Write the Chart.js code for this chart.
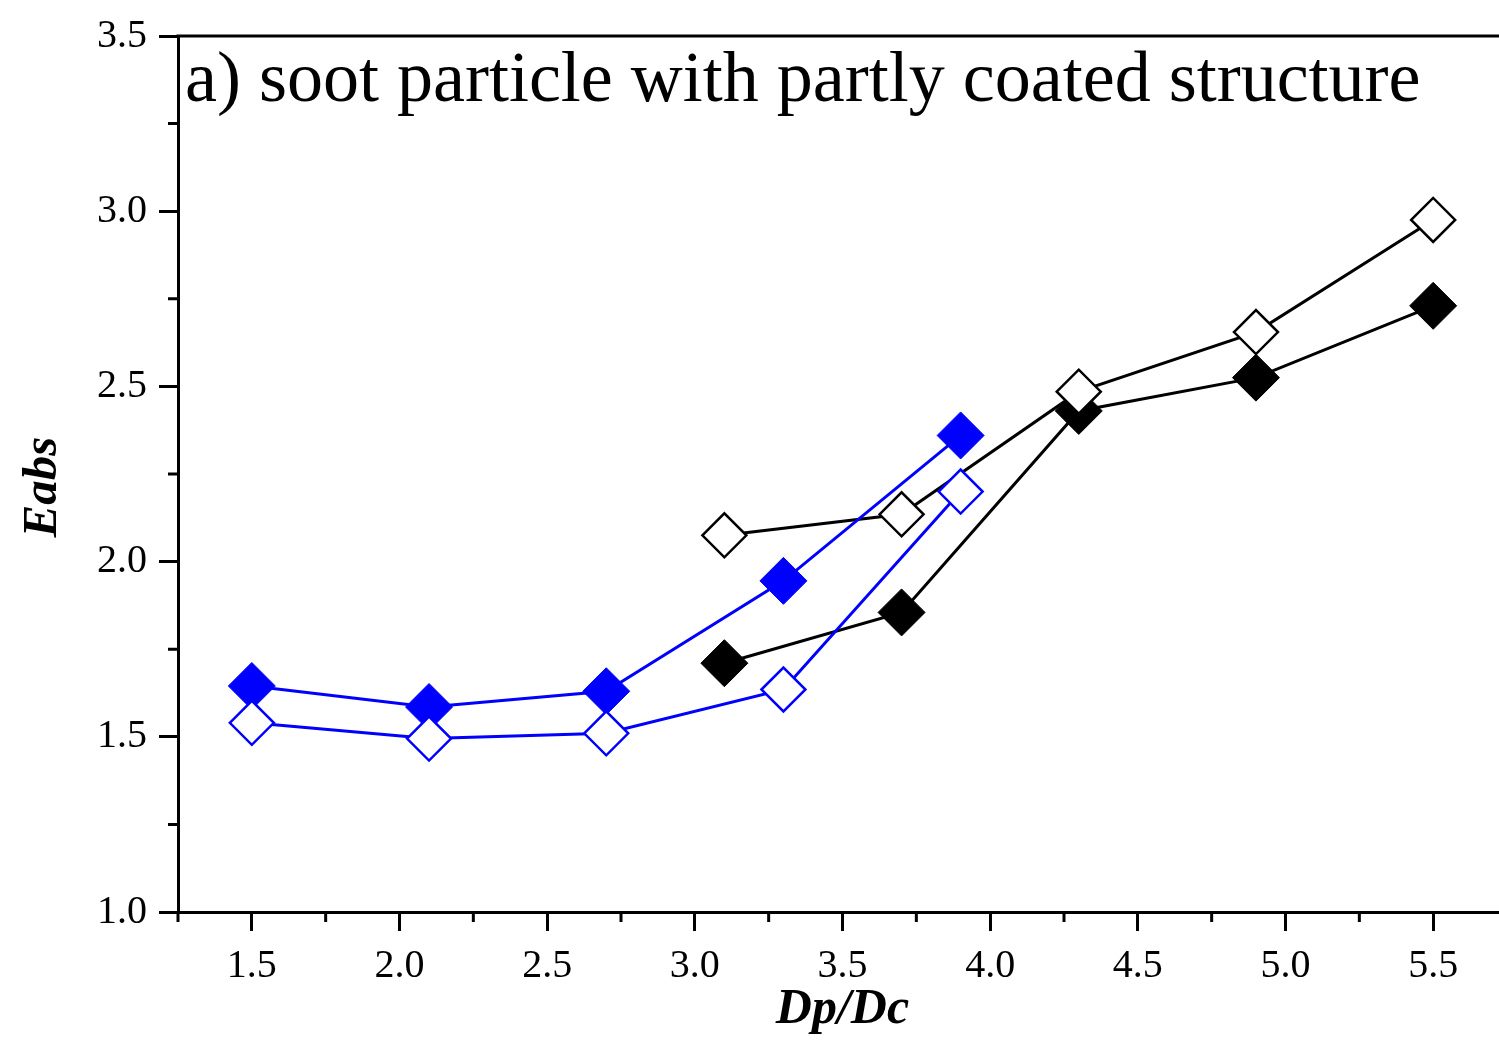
<!DOCTYPE html>
<html>
<head>
<meta charset="utf-8">
<script src="https://cdn.jsdelivr.net/npm/chart.js@4.4.1/dist/chart.umd.min.js"></script>
<style>
  html, body { margin: 0; padding: 0; background: #fff; overflow: hidden; }
  #wrap { position: absolute; left: 0; top: 0; width: 1510px; height: 1040px; }
</style>
</head>
<body>
<div id="wrap"><canvas id="myChart" width="1510" height="1040"></canvas></div>
<script>
// values
let xBlue = [1.5, 2.1, 2.7, 3.3, 3.9];
let blueFilled = [1.645, 1.585, 1.63, 1.945, 2.36];
let blueOpen = [1.54, 1.495, 1.51, 1.635, 2.2];
let xBlack = [3.1, 3.7, 4.3, 4.9, 5.5];
let blackOpen = [2.075, 2.135, 2.485, 2.655, 2.975];
let blackFilled = [1.71, 1.855, 2.43, 2.525, 2.73];

let xTicks = [1.5, 2.0, 2.5, 3.0, 3.5, 4.0, 4.5, 5.0, 5.5];
let xMinor = [1.25, 1.75, 2.25, 2.75, 3.25, 3.75, 4.25, 4.75, 5.25, 5.75];
let yTicks = [1.0, 1.5, 2.0, 2.5, 3.0, 3.5];
let yMinor = [1.25, 1.75, 2.25, 2.75, 3.25];

let panelTitle = "a) soot particle with partly coated structure";
let yTitle = "Eabs";
let serif = "'Liberation Serif', 'Times New Roman', serif";

function pts(xs, ys) {
  return xs.map((x, i) => ({ x: x, y: ys[i] }));
}

// minor ticks, top frame line, y title and the panel caption
const extras = {
  id: "extras",
  afterDraw(chart) {
    let c = chart.ctx;
    let area = chart.chartArea;
    let sx = chart.scales.x;
    let sy = chart.scales.y;
    c.save();
    c.strokeStyle = "#000";
    c.lineWidth = 3;
    c.beginPath();
    c.moveTo(area.left - 1.5, area.top);
    c.lineTo(area.right, area.top);
    xMinor.forEach((v) => {
      let px = sx.getPixelForValue(v);
      c.moveTo(px, area.bottom);
      c.lineTo(px, area.bottom + 10);
    });
    yMinor.forEach((v) => {
      let py = sy.getPixelForValue(v);
      c.moveTo(area.left, py);
      c.lineTo(area.left - 10, py);
    });
    c.stroke();
    c.fillStyle = "#000";
    c.font = "72px " + serif;
    c.textBaseline = "alphabetic";
    c.textAlign = "left";
    c.fillText(panelTitle, area.left + 7, 101);

    // y axis title, a bit below the axis middle as in the figure
    c.translate(56, 487);
    c.rotate(-Math.PI / 2);
    c.font = "italic bold 49px " + serif;
    c.textAlign = "center";
    c.fillText(yTitle, 0, 0);
    c.restore();
  },
};

var ctx = document.getElementById("myChart");

function series(values, xs, color, filled) {
  return {
    data: pts(xs, values),
    borderColor: color,
    borderWidth: 3,
    pointStyle: "rectRot",
    pointRadius: filled ? 23.5 : 22,
    pointBorderWidth: filled ? 1 : 2.5,
    pointBackgroundColor: filled ? color : "#ffffff",
    pointBorderColor: color,
  };
}

var myChart = new Chart(ctx, {
  type: "line",
  data: {
    datasets: [
      series(blueOpen, xBlue, "#0000ff", false),
      series(blueFilled, xBlue, "#0000ff", true),
      series(blackOpen, xBlack, "#000000", false),
      series(blackFilled, xBlack, "#000000", true),
    ],
  },
  options: {
    responsive: false,
    animation: false,
    clip: false,
    layout: {
      autoPadding: false,
      padding: { top: 36, right: 3, left: 0, bottom: 0 },
    },
    plugins: {
      legend: { display: false },
      tooltip: { enabled: false },
    },
    elements: { line: { tension: 0 } },
    scales: {
      x: {
        type: "linear",
        min: 1.25,
        max: 5.75,
        afterBuildTicks: (scale) => {
          scale.ticks = xTicks.map((v) => ({ value: v }));
        },
        afterFit: (scale) => {
          scale.height = 128;
          scale.paddingLeft = 0;
          scale.paddingRight = 0;
        },
        grid: {
          drawOnChartArea: false,
          drawTicks: true,
          tickLength: 19,
          tickWidth: 3,
          tickColor: "#000",
        },
        border: { display: true, color: "#000", width: 3 },
        ticks: {
          padding: 11,
          color: "#000",
          font: { family: serif, size: 40 },
          maxRotation: 0,
          callback: (v) => Number(v).toFixed(1),
        },
        title: {
          display: true,
          text: "Dp/Dc",
          color: "#000",
          font: { family: serif, size: 50, style: "italic", weight: "bold" },
          padding: { top: 0, bottom: 0 },
        },
      },
      y: {
        min: 1.0,
        max: 3.5,
        afterBuildTicks: (scale) => {
          scale.ticks = yTicks.map((v) => ({ value: v }));
        },
        afterFit: (scale) => {
          scale.width = 178;
          scale.paddingTop = 0;
          scale.paddingBottom = 0;
        },
        grid: {
          drawOnChartArea: false,
          drawTicks: true,
          tickLength: 19,
          tickWidth: 3,
          tickColor: "#000",
        },
        border: { display: true, color: "#000", width: 3 },
        ticks: {
          padding: 12,
          color: "#000",
          font: { family: serif, size: 40 },
          callback: (v) => Number(v).toFixed(1),
        },
      },
    },
  },
  plugins: [extras],
});
</script>
</body>
</html>
